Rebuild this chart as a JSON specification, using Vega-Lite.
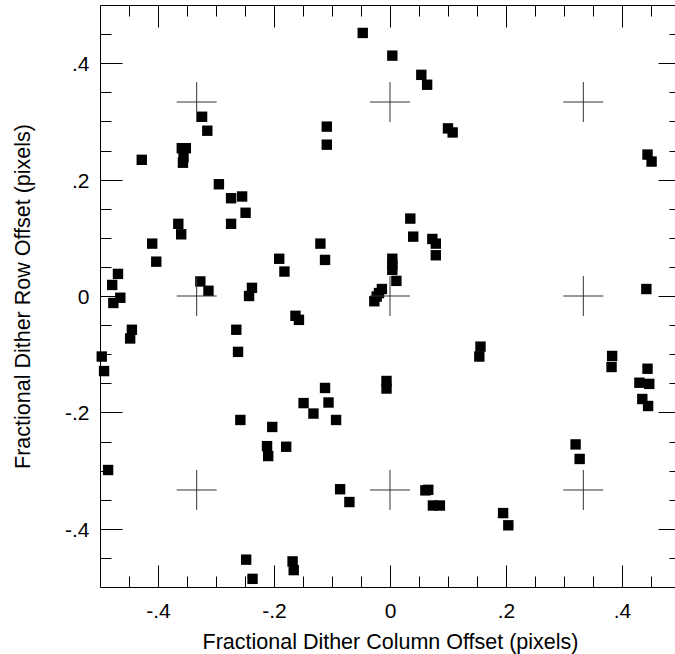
{
  "$schema": "https://vega.github.io/schema/vega-lite/v6.json",
  "width": 575,
  "height": 582,
  "autosize": {"type": "none"},
  "padding": {"left": 100, "top": 5, "right": 0, "bottom": 67},
  "config": {
    "view": {"stroke": null},
    "font": "Liberation Sans",
    "axis": {
      "grid": false,
      "domainColor": "black",
      "domainWidth": 1,
      "tickColor": "black",
      "tickWidth": 1,
      "labelFontSize": 21,
      "titleFontSize": 21.5,
      "labelColor": "black",
      "titleColor": "black",
      "titleFontWeight": "normal",
      "labelFlush": false,
      "labelOverlap": false,
      "labelBound": false
    }
  },
  "datasets": {
    "pts": [
      {"x": -0.047, "y": 0.452}, {"x": 0.004, "y": 0.413}, {"x": 0.054, "y": 0.380}, {"x": 0.064, "y": 0.363},
      {"x": -0.324, "y": 0.308}, {"x": -0.315, "y": 0.284}, {"x": -0.109, "y": 0.291}, {"x": -0.109, "y": 0.260},
      {"x": 0.100, "y": 0.288}, {"x": 0.108, "y": 0.281}, {"x": -0.359, "y": 0.254}, {"x": -0.352, "y": 0.254},
      {"x": -0.356, "y": 0.238}, {"x": -0.357, "y": 0.229}, {"x": -0.428, "y": 0.234}, {"x": 0.444, "y": 0.243},
      {"x": 0.451, "y": 0.231}, {"x": -0.295, "y": 0.192}, {"x": -0.274, "y": 0.168}, {"x": -0.255, "y": 0.171},
      {"x": -0.249, "y": 0.143}, {"x": 0.035, "y": 0.133}, {"x": 0.040, "y": 0.102}, {"x": -0.274, "y": 0.124},
      {"x": -0.365, "y": 0.124}, {"x": -0.360, "y": 0.106}, {"x": 0.073, "y": 0.098}, {"x": 0.079, "y": 0.090},
      {"x": 0.079, "y": 0.070}, {"x": -0.410, "y": 0.090}, {"x": -0.403, "y": 0.059}, {"x": -0.120, "y": 0.090},
      {"x": -0.112, "y": 0.062}, {"x": -0.191, "y": 0.064}, {"x": -0.182, "y": 0.042}, {"x": 0.004, "y": 0.064},
      {"x": 0.004, "y": 0.054}, {"x": 0.004, "y": 0.045}, {"x": 0.011, "y": 0.026}, {"x": -0.469, "y": 0.038},
      {"x": -0.479, "y": 0.019}, {"x": -0.465, "y": -0.003}, {"x": -0.477, "y": -0.012}, {"x": -0.327, "y": 0.025},
      {"x": -0.313, "y": 0.009}, {"x": -0.238, "y": 0.014}, {"x": -0.243, "y": 0.000}, {"x": -0.014, "y": 0.012},
      {"x": -0.019, "y": 0.005}, {"x": -0.023, "y": -0.001}, {"x": -0.027, "y": -0.009}, {"x": 0.442, "y": 0.012},
      {"x": -0.163, "y": -0.034}, {"x": -0.157, "y": -0.041}, {"x": -0.445, "y": -0.058}, {"x": -0.448, "y": -0.073},
      {"x": -0.265, "y": -0.058}, {"x": -0.262, "y": -0.096}, {"x": -0.497, "y": -0.104}, {"x": -0.493, "y": -0.129},
      {"x": 0.156, "y": -0.087}, {"x": 0.154, "y": -0.104}, {"x": 0.383, "y": -0.103}, {"x": 0.382, "y": -0.122},
      {"x": 0.444, "y": -0.125}, {"x": 0.430, "y": -0.149}, {"x": 0.447, "y": -0.151}, {"x": 0.435, "y": -0.177},
      {"x": 0.445, "y": -0.189}, {"x": -0.006, "y": -0.146}, {"x": -0.006, "y": -0.159}, {"x": -0.112, "y": -0.158},
      {"x": -0.149, "y": -0.184}, {"x": -0.106, "y": -0.183}, {"x": -0.132, "y": -0.202}, {"x": -0.093, "y": -0.213},
      {"x": -0.258, "y": -0.213}, {"x": -0.203, "y": -0.225}, {"x": -0.212, "y": -0.258}, {"x": -0.210, "y": -0.275},
      {"x": -0.179, "y": -0.259}, {"x": -0.486, "y": -0.299}, {"x": -0.086, "y": -0.332}, {"x": -0.070, "y": -0.354},
      {"x": 0.061, "y": -0.334}, {"x": 0.066, "y": -0.333}, {"x": 0.074, "y": -0.360}, {"x": 0.086, "y": -0.360},
      {"x": 0.320, "y": -0.255}, {"x": 0.327, "y": -0.280}, {"x": 0.195, "y": -0.373}, {"x": 0.204, "y": -0.394},
      {"x": -0.248, "y": -0.453}, {"x": -0.237, "y": -0.486}, {"x": -0.168, "y": -0.456}, {"x": -0.166, "y": -0.471}
    ],
    "crosses": [
      {"x": -0.3333, "y": 0.3333}, {"x": 0, "y": 0.3333}, {"x": 0.3333, "y": 0.3333},
      {"x": -0.3333, "y": 0}, {"x": 0, "y": 0}, {"x": 0.3333, "y": 0},
      {"x": -0.3333, "y": -0.3333}, {"x": 0, "y": -0.3333}, {"x": 0.3333, "y": -0.3333}
    ]
  },
  "layer": [
    {
      "data": {"name": "pts"},
      "mark": {"type": "point", "shape": "square", "size": 108, "filled": true, "color": "black", "opacity": 1, "strokeWidth": 0},
      "encoding": {
        "x": {
          "field": "x", "type": "quantitative",
          "scale": {"domain": [-0.5, 0.5], "range": [0, 580], "nice": false, "zero": false},
          "axis": {
            "orient": "bottom",
            "title": "Fractional Dither Column Offset (pixels)",
            "titlePadding": 10,
            "values": [-0.4, -0.2, 0, 0.2, 0.4],
            "tickSize": -22,
            "labelPadding": 35,
            "labelExpr": "(datum.value < -0.01 ? '-' : '') + (abs(datum.value) < 0.01 ? '0' : '.' + round(abs(datum.value)*10))"
          }
        },
        "y": {
          "field": "y", "type": "quantitative",
          "scale": {"domain": [-0.5, 0.5], "nice": false, "zero": false},
          "axis": {
            "orient": "left",
            "title": "Fractional Dither Row Offset (pixels)",
            "titlePadding": 30,
            "values": [-0.4, -0.2, 0, 0.2, 0.4],
            "tickSize": -22,
            "labelPadding": 33,
            "labelOffset": 1.5,
            "labelExpr": "(datum.value < -0.01 ? '-' : '') + (abs(datum.value) < 0.01 ? '0' : '.' + round(abs(datum.value)*10))"
          }
        }
      }
    },
    {
      "data": {"name": "crosses"},
      "mark": {"type": "point", "shape": "M-1,0H1M0,-1V1", "size": 1600, "filled": false, "stroke": "#333333", "strokeWidth": 1, "opacity": 1},
      "encoding": {
        "x": {
          "field": "x", "type": "quantitative",
          "scale": {"domain": [-0.5, 0.5], "range": [0, 580], "nice": false, "zero": false},
          "axis": {
            "orient": "top", "title": null, "labels": false,
            "values": [-0.45, -0.4, -0.35, -0.3, -0.25, -0.2, -0.15, -0.1, -0.05, 0, 0.05, 0.1, 0.15, 0.2, 0.25, 0.3, 0.35, 0.4, 0.45],
            "tickSize": {"condition": {"test": "abs(round(datum.value*20)) % 4 == 0", "value": -22}, "value": -11}
          }
        },
        "y": {
          "field": "y", "type": "quantitative",
          "scale": {"domain": [-0.5, 0.5], "nice": false, "zero": false},
          "axis": {
            "orient": "right", "title": null, "labels": false, "offset": 5,
            "values": [-0.45, -0.4, -0.35, -0.3, -0.25, -0.2, -0.15, -0.1, -0.05, 0, 0.05, 0.1, 0.15, 0.2, 0.25, 0.3, 0.35, 0.4, 0.45],
            "tickSize": {"condition": {"test": "abs(round(datum.value*20)) % 4 == 0", "value": -22}, "value": -11}
          }
        }
      }
    },
    {
      "data": {"name": "crosses"},
      "mark": {"type": "point", "opacity": 0, "size": 1},
      "encoding": {
        "x": {
          "field": "x", "type": "quantitative",
          "scale": {"domain": [-0.5, 0.5], "range": [0, 580], "nice": false, "zero": false},
          "axis": {
            "orient": "bottom", "title": null, "labels": false, "domain": false,
            "values": [-0.45, -0.35, -0.3, -0.25, -0.15, -0.1, -0.05, 0.05, 0.1, 0.15, 0.25, 0.3, 0.35, 0.45],
            "tickSize": -11
          }
        },
        "y": {
          "field": "y", "type": "quantitative",
          "scale": {"domain": [-0.5, 0.5], "nice": false, "zero": false},
          "axis": {
            "orient": "left", "title": null, "labels": false, "domain": false,
            "values": [-0.45, -0.35, -0.3, -0.25, -0.15, -0.1, -0.05, 0.05, 0.1, 0.15, 0.25, 0.3, 0.35, 0.45],
            "tickSize": -11
          }
        }
      }
    }
  ],
  "resolve": {"axis": {"x": "independent", "y": "independent"}}
}
